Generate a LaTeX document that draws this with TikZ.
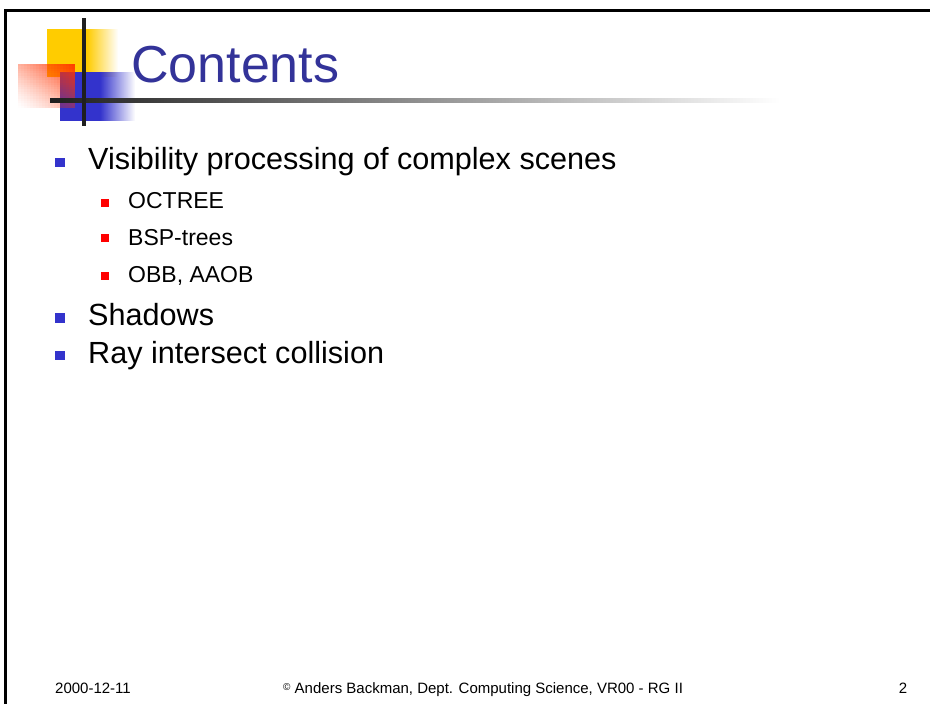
\documentclass[tikz,border=0pt]{standalone}
\usepackage{fontspec}
\setmainfont{Liberation Sans}
\usetikzlibrary{fadings}

\definecolor{titleblue}{HTML}{333399}
\definecolor{bulletblue}{HTML}{3333CC}
\definecolor{logoyellow}{HTML}{FFCC00}
\definecolor{logored}{HTML}{FF3300}
\tikzfading[name=faderight, left color=transparent!0, right color=transparent!100]

\begin{document}
\begin{tikzpicture}[x=1pt,y=-1pt,
  itemone/.style={anchor=base west,inner sep=0pt,font=\fontsize{30.6}{36}\selectfont},
  itemtwo/.style={anchor=base west,inner sep=0pt,font=\fontsize{23}{28}\selectfont},
  bulletone/.style={fill=bulletblue,minimum size=9.5pt,inner sep=0pt},
  bullettwo/.style={fill=red,minimum size=8pt,inner sep=0pt},
  foot/.style={inner sep=0pt,font=\fontsize{15}{18}\selectfont}]
\fill[white] (0,0) rectangle (930,704);
\useasboundingbox (0,0) rectangle (930,704);
% frame
\draw[line width=3pt] (5.5,704) -- (5.5,10.5) -- (930,10.5);
% logo
\fill[logoyellow] (47,29) rectangle (87,77);
\fill[logoyellow,path fading=faderight] (87,29) rectangle (118,77);
\fill[bulletblue] (60,72) rectangle (100,121);
\fill[bulletblue,path fading=faderight] (100,72) rectangle (135,121);
% red square, strong at top right
\foreach \i in {0,...,18}
  \foreach \j in {0,...,18}{
    \pgfmathsetmacro{\redop}{0.95*(((\i+0.5)/19+1-(\j+0.5)/19)/2)^1.3}
    \fill[logored,fill opacity=\redop] (18+3*\i,64+2.3158*\j) rectangle +(3,2.3158);
  }
\shade[left color=black!88,right color=white] (50,98) rectangle (780,102);
\draw[line width=4pt,black!88] (84,18) -- (84,126);
% title and items
\path node (title) at (131,82) [anchor=base west,inner sep=0pt,text=titleblue,font=\fontsize{52}{60}\selectfont] {Contents}
node (b1) at (60,162.5) [bulletone] {}
node (vis) at (88,169.5) [itemone] {Visibility processing of complex scenes}
node (b2) at (105,203) [bullettwo] {}
node (octree) at (128,208) [itemtwo] {OCTREE}
node (b3) at (105,238) [bullettwo] {}
node (bsp) at (128,245) [itemtwo] {BSP-trees}
node (b4) at (105,276) [bullettwo] {}
node (obb) at (128,282) [itemtwo] {OBB, AAOB}
node (b5) at (60,318) [bulletone] {}
node (shadows) at (88,325) [itemone] {Shadows}
node (b6) at (60,355.5) [bulletone] {}
node (ray) at (88,363) [itemone] {Ray intersect collision};
% footer
\path node (date) at (55,693) [foot,anchor=base west] {2000-12-11}
node (credit) at (283,693) [foot,anchor=base west] {\raisebox{3pt}{\fontsize{10}{10}\selectfont ©} Anders Backman, Dept. Computing Science, VR00 - RG II}
node (pageno) at (907.5,693) [foot,anchor=base east] {2};
\end{tikzpicture}
\end{document}
